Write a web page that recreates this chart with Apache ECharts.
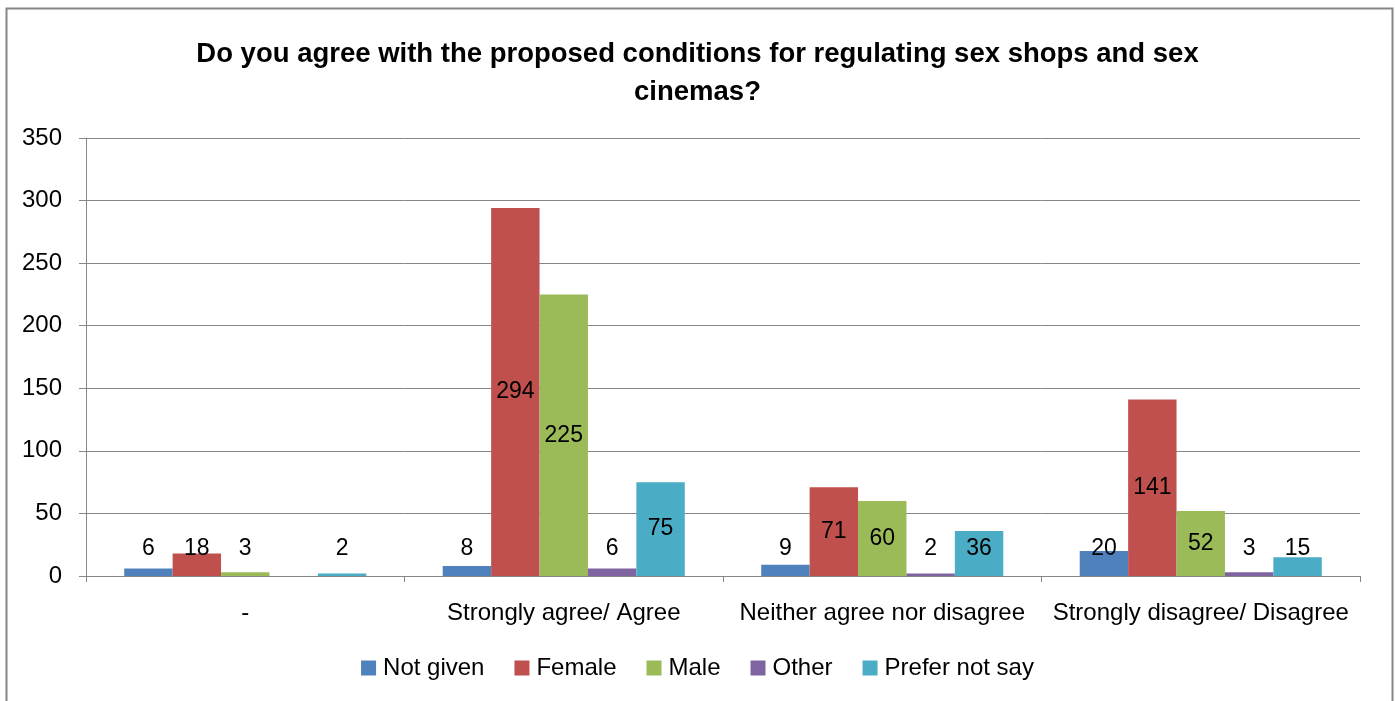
<!DOCTYPE html>
<html>
<head>
<meta charset="utf-8">
<script src="https://cdn.jsdelivr.net/npm/echarts@6/dist/echarts.min.js"></script>
<style>
html,body{margin:0;padding:0;background:#fff;}
#main{width:1395px;height:701px;}
</style>
</head>
<body>
<div id="main"></div>
<script>
const categories = ['-', 'Strongly agree/ Agree', 'Neither agree nor disagree', 'Strongly disagree/ Disagree'];
const seriesNames = ['Not given', 'Female', 'Male', 'Other', 'Prefer not say'];
const notGiven = [6, 8, 9, 20];
const female = [18, 294, 71, 141];
const male = [3, 225, 60, 52];
const other = [null, 6, 2, 3];
const preferNotSay = [2, 75, 36, 15];
const yTicks = [0, 50, 100, 150, 200, 250, 300, 350];

const allValues = [notGiven, female, male, other, preferNotSay];
const colors = ['#4F81BD', '#C0504D', '#9BBB59', '#8064A2', '#4BACC6'];
const FONT = 'Liberation Sans';
const yMax = yTicks[yTicks.length - 1];
const plotH = 438;
const minLabelCenter = 28;

function buildData(vals) {
  return vals.map(v => {
    if (v === null) return {value: null};
    const center = v * plotH / yMax / 2;
    if (center < minLabelCenter) {
      return {value: v, label: {position: 'insideBottom', distance: minLabelCenter - 12}};
    }
    return {value: v};
  });
}

const chart = echarts.init(document.getElementById('main'), null, {renderer: 'canvas'});
chart.setOption({
  animation: false,
  backgroundColor: '#fff',
  title: {
    text: 'Do you agree with the proposed conditions for regulating sex shops and sex\ncinemas?',
    left: 'center',
    top: 30,
    textStyle: {fontFamily: FONT, fontSize: 27.5, fontWeight: 'bold', color: '#000', lineHeight: 38}
  },
  graphic: [{
    type: 'rect', left: 4, top: 6, shape: {width: 1386, height: 710},
    style: {fill: 'none', stroke: '#868686', lineWidth: 2}, silent: true, z: -1
  }],
  legend: {
    data: seriesNames,
    top: 651,
    left: 'center',
    itemWidth: 15, itemHeight: 15, itemGap: 30,
    icon: 'rect',
    textStyle: {fontFamily: FONT, fontSize: 24, color: '#000', padding: [0, 0, 0, 2]}
  },
  grid: {left: 86, right: 35, top: 138, bottom: 125, containLabel: false},
  xAxis: {
    type: 'category',
    data: categories,
    axisLine: {lineStyle: {color: '#868686', width: 1}},
    axisTick: {show: true, length: 6, lineStyle: {color: '#868686'}},
    axisLabel: {fontFamily: FONT, fontSize: 24, color: '#000', margin: 25, interval: 0}
  },
  yAxis: {
    type: 'value',
    min: 0, max: yMax, interval: 50,
    axisLine: {show: true, lineStyle: {color: '#868686'}},
    axisTick: {show: true, length: 7, lineStyle: {color: '#868686'}},
    axisLabel: {fontFamily: FONT, fontSize: 24, color: '#000', margin: 24},
    splitLine: {lineStyle: {color: '#868686', width: 1}}
  },
  series: seriesNames.map((name, i) => ({
    name: name,
    type: 'bar',
    data: buildData(allValues[i]),
    barGap: '0%',
    barCategoryGap: '24%',
    itemStyle: {color: colors[i]},
    label: {
      show: true, position: 'inside', color: '#000',
      fontFamily: FONT, fontSize: 23,
      formatter: p => (p.value === null || p.value === undefined) ? '' : String(p.value)
    }
  }))
});
</script>
</body>
</html>
